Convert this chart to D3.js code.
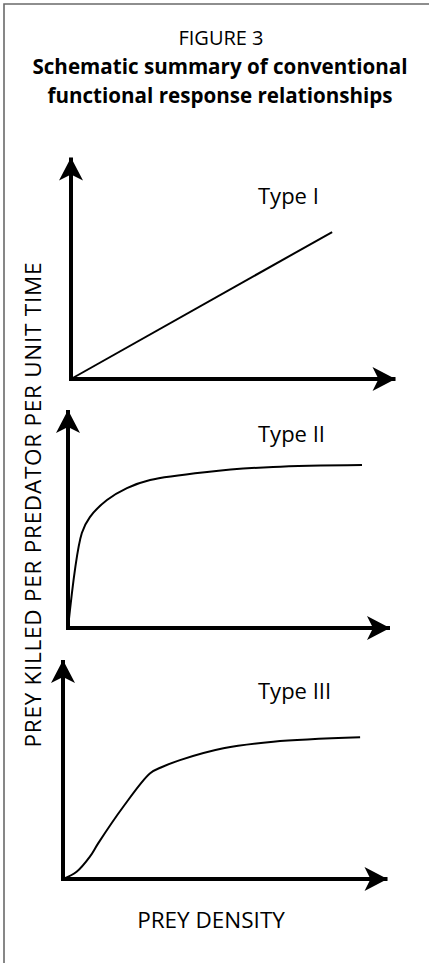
<!DOCTYPE html>
<html>
<head>
<meta charset="utf-8">
<script src="https://cdn.jsdelivr.net/npm/d3@7"></script>
<style>
  html, body { margin: 0; padding: 0; background: #fff; }
  svg { display: block; font-family: "Open Sans", sans-serif; }
</style>
</head>
<body>
<div id="chart"></div>
<script>
// Schematic response curves, in axis units (0-100 on both axes)
const typeNames = ["Type I", "Type II", "Type III"];
const typeIx = [0, 80.6];
const typeIy = [0, 66.2];
const typeIIx = [0, 4.3, 6.8, 12.1, 18.3, 25.5, 43.2, 63.7, 91.3];
const typeIIy = [0, 43.6, 50.9, 58.7, 64.2, 67.9, 71.6, 73.9, 74.8];
const typeIIIx = [0, 4.2, 8.3, 10.9, 18.6, 26.9, 30.2, 36.1, 49.5, 64.9, 91.7];
const typeIIIy = [0, 3.3, 10.2, 16.4, 33.0, 48.3, 50.9, 54.3, 59.7, 62.7, 64.7];

const titleLines = ["FIGURE 3", "Schematic summary of conventional", "functional response relationships"];
const xLabel = "PREY DENSITY";
const yLabel = "PREY KILLED PER PREDATOR PER UNIT TIME";

const width = 429, height = 963;

const svg = d3.select("#chart").append("svg")
  .attr("width", width)
  .attr("height", height);

// arrowhead
svg.append("defs").append("marker")
  .attr("id", "arrow")
  .attr("markerUnits", "userSpaceOnUse")
  .attr("viewBox", "-24 -13 26 26")
  .attr("refX", 0)
  .attr("refY", 0)
  .attr("markerWidth", 26)
  .attr("markerHeight", 26)
  .attr("orient", "auto")
  .append("path")
  .attr("d", "M0,0L-23,-12L-17,0L-23,12Z")
  .attr("fill", "#000");

// frame (left and top only)
svg.append("path")
  .attr("d", `M4,${height}V4H${width}`)
  .attr("fill", "none")
  .attr("stroke", "#6a6a6a")
  .attr("stroke-width", 1.6);

// title
const title = svg.append("g").attr("text-anchor", "middle");
title.append("text").attr("x", 221).attr("y", 45)
  .attr("font-size", 20).text(titleLines[0]);
title.append("text").attr("x", 220).attr("y", 74)
  .attr("font-size", 20.6).attr("font-weight", "bold").text(titleLines[1]);
title.append("text").attr("x", 220).attr("y", 103)
  .attr("font-size", 20.6).attr("font-weight", "bold").text(titleLines[2]);

const panels = [
  { ox: 71, oy: 379, tipX: 395, tipY: 157, labelY: 204, xs: typeIx, ys: typeIy },
  { ox: 68, oy: 628, tipX: 390, tipY: 410, labelY: 442, xs: typeIIx, ys: typeIIy },
  { ox: 63, oy: 879, tipX: 387, tipY: 660, labelY: 699, xs: typeIIIx, ys: typeIIIy }
];

panels.forEach((p, i) => {
  const x = d3.scaleLinear().domain([0, 100]).range([p.ox, p.tipX]);
  const y = d3.scaleLinear().domain([0, 100]).range([p.oy, p.tipY]);

  const xAxis = svg.append("g")
    .attr("transform", `translate(0,${p.oy})`)
    .call(d3.axisBottom(x).tickValues([]).tickSizeOuter(0));
  const yAxis = svg.append("g")
    .attr("transform", `translate(${p.ox},0)`)
    .call(d3.axisLeft(y).tickValues([]).tickSizeOuter(0));

  [xAxis, yAxis].forEach(a => a.select(".domain")
    .attr("d", function() {
      // drop the half-pixel offset so the two lines meet at the origin
      return d3.select(this).attr("d").replace(/0\.5/g, "0");
    })
    .attr("stroke", "#000")
    .attr("stroke-width", 4)
    .attr("marker-end", "url(#arrow)"));

  // fill the corner where the two thick lines meet
  svg.append("rect")
    .attr("x", p.ox - 2).attr("y", p.oy - 2)
    .attr("width", 4).attr("height", 4)
    .attr("fill", "#000");

  const pts = p.xs.map((v, j) => [v, p.ys[j]]);
  const line = d3.line()
    .x(d => x(d[0]))
    .y(d => y(d[1]))
    .curve(i === 0 ? d3.curveLinear : d3.curveCatmullRom.alpha(0.5));

  svg.append("path")
    .datum(pts)
    .attr("d", line)
    .attr("fill", "none")
    .attr("stroke", "#000")
    .attr("stroke-width", 2);

  svg.append("text")
    .attr("x", 258)
    .attr("y", p.labelY)
    .attr("font-size", 22)
    .text(typeNames[i]);
});

svg.append("text")
  .attr("x", 211).attr("y", 928)
  .attr("text-anchor", "middle")
  .attr("font-size", 22.5)
  .text(xLabel);

svg.append("text")
  .attr("transform", "translate(41,505) rotate(-90)")
  .attr("text-anchor", "middle")
  .attr("font-size", 22.5)
  .attr("textLength", 485)
  .attr("lengthAdjust", "spacing")
  .text(yLabel);
</script>
</body>
</html>
